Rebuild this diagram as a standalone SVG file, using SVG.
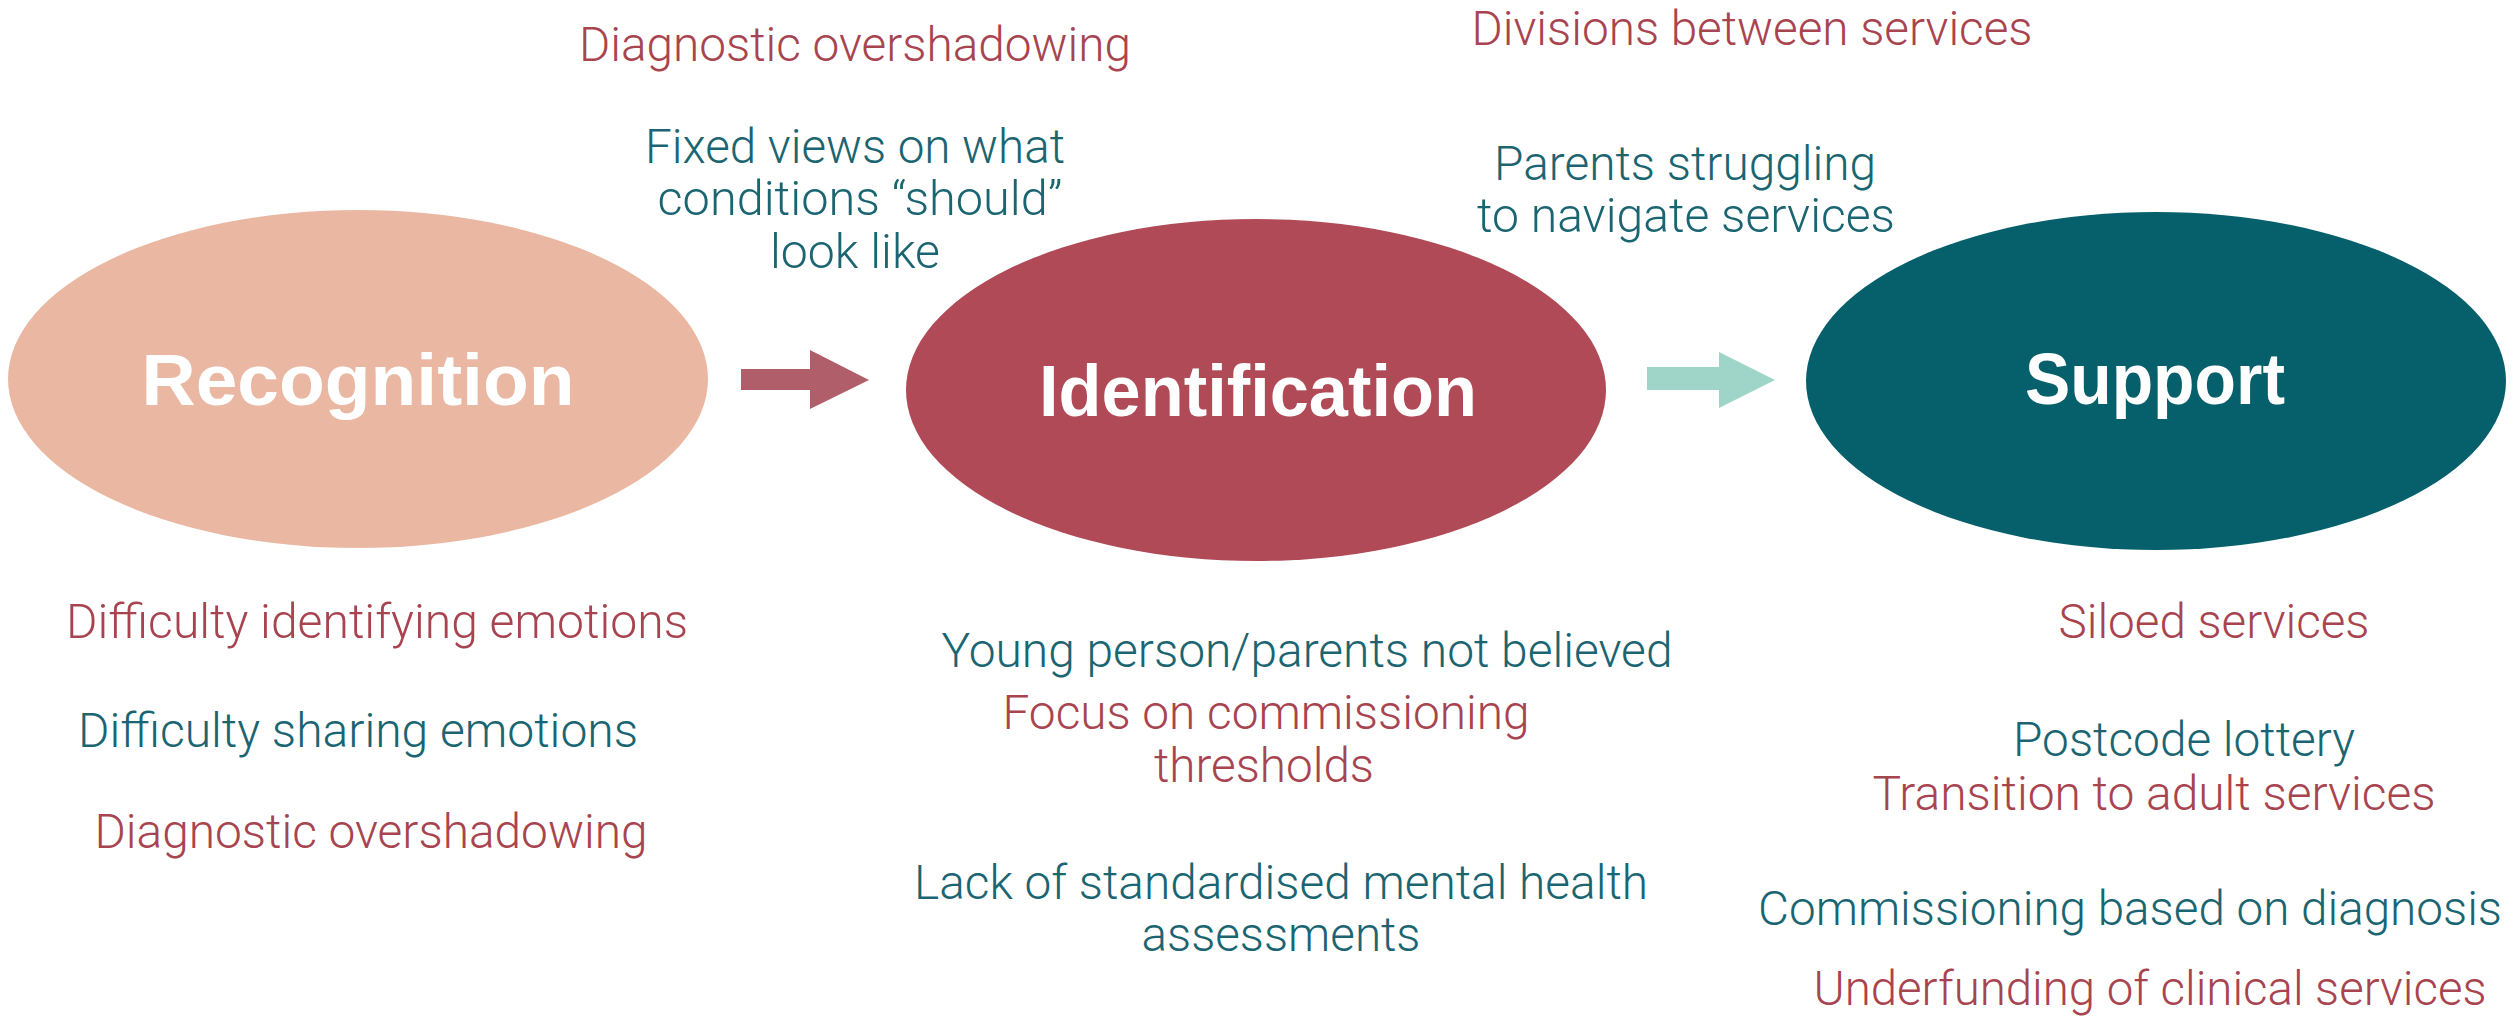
<svg xmlns="http://www.w3.org/2000/svg" width="2514" height="1021" viewBox="0 0 2514 1021">
<style>
.t{font-family:Roboto,"Liberation Sans",sans-serif;font-weight:300;font-size:48px;text-anchor:middle}
.r{fill:#A8444F}
.g{fill:#1A6571}
.lbl{font-family:"Liberation Sans",Arial,sans-serif;font-weight:bold;font-size:72px;fill:#fff;text-anchor:middle}
</style>
<rect width="2514" height="1021" fill="#fff"/>
<g id="recognition">
<ellipse cx="358" cy="379" rx="350" ry="169" fill="#EAB8A2"/>
<text class="lbl" x="358" y="405" textLength="433" lengthAdjust="spacingAndGlyphs">Recognition</text>
</g>
<g id="identification">
<ellipse cx="1256" cy="390" rx="350" ry="171" fill="#B04A57"/>
<text class="lbl" x="1258" y="416" textLength="438" lengthAdjust="spacingAndGlyphs">Identification</text>
</g>
<g id="support">
<ellipse cx="2156" cy="381" rx="350" ry="169" fill="#05606B"/>
<text class="lbl" x="2155" y="404" textLength="260" lengthAdjust="spacingAndGlyphs">Support</text>
</g>
<g id="connectors">
<polygon points="741,369 810,369 810,350 869,380 810,409 810,390 741,390" fill="#B05F6A"/>
<polygon points="1647,367 1719,367 1719,352 1775,380 1719,408 1719,390 1647,390" fill="#9ED5C8"/>
</g>
<g id="labels">
<text class="t r" x="855" y="61" textLength="552" lengthAdjust="spacingAndGlyphs">Diagnostic overshadowing</text>
<text class="t g" x="855" y="163" textLength="420" lengthAdjust="spacingAndGlyphs">Fixed views on what</text>
<text class="t g" x="860" y="215" textLength="405" lengthAdjust="spacingAndGlyphs">conditions “should”</text>
<text class="t g" x="855" y="268" textLength="170" lengthAdjust="spacingAndGlyphs">look like</text>
<text class="t r" x="1752" y="45" textLength="561" lengthAdjust="spacingAndGlyphs">Divisions between services</text>
<text class="t g" x="1685" y="180" textLength="382" lengthAdjust="spacingAndGlyphs">Parents struggling</text>
<text class="t g" x="1686" y="232" textLength="418" lengthAdjust="spacingAndGlyphs">to navigate services</text>
<text class="t r" x="377" y="638" textLength="622" lengthAdjust="spacingAndGlyphs">Difficulty identifying emotions</text>
<text class="t g" x="358" y="747" textLength="560" lengthAdjust="spacingAndGlyphs">Difficulty sharing emotions</text>
<text class="t r" x="371" y="848" textLength="553" lengthAdjust="spacingAndGlyphs">Diagnostic overshadowing</text>
<text class="t g" x="1307" y="667" textLength="731" lengthAdjust="spacingAndGlyphs">Young person/parents not believed</text>
<text class="t r" x="1266" y="729" textLength="527" lengthAdjust="spacingAndGlyphs">Focus on commissioning</text>
<text class="t r" x="1264" y="782" textLength="220" lengthAdjust="spacingAndGlyphs">thresholds</text>
<text class="t g" x="1281" y="899" textLength="734" lengthAdjust="spacingAndGlyphs">Lack of standardised mental health</text>
<text class="t g" x="1281" y="951" textLength="279" lengthAdjust="spacingAndGlyphs">assessments</text>
<text class="t r" x="2214" y="638" textLength="311" lengthAdjust="spacingAndGlyphs">Siloed services</text>
<text class="t g" x="2184" y="756" textLength="342" lengthAdjust="spacingAndGlyphs">Postcode lottery</text>
<text class="t r" x="2154" y="810" textLength="563" lengthAdjust="spacingAndGlyphs">Transition to adult services</text>
<text class="t g" x="2130" y="925" textLength="744" lengthAdjust="spacingAndGlyphs">Commissioning based on diagnosis</text>
<text class="t r" x="2150" y="1005" textLength="673" lengthAdjust="spacingAndGlyphs">Underfunding of clinical services</text>
</g>
</svg>
